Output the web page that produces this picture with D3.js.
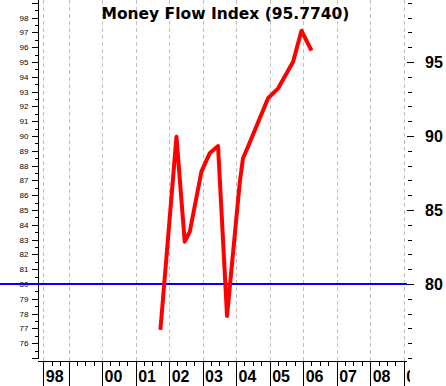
<!DOCTYPE html>
<html>
<head>
<meta charset="utf-8">
<script src="https://cdn.jsdelivr.net/npm/d3@7/dist/d3.min.js"></script>
<style>
  body { margin: 0; background: #fff; }
  svg { display: block; }
</style>
</head>
<body>
<svg id="chart" width="446" height="386"></svg>
<script>
// values
const mfiDates = ["2001-09-28", "2002-03-22", "2002-06-20", "2002-08-14", "2002-12-19", "2003-03-19",
    "2003-06-18", "2003-09-24", "2004-02-09", "2004-03-16", "2004-05-10", "2004-12-14",
    "2005-04-03", "2005-09-13", "2005-12-13", "2006-04-02"]
const mfiValues = [76.9, 89.95, 82.86, 83.53, 87.59, 88.83, 89.32, 77.84, 86.82, 88.5, 89.28, 92.55,
    93.22, 95.02, 97.11, 95.77]
const refLevel = 80
const leftLabels = d3.range(76, 99)          // 76 .. 98
const rightLabels = [80, 85, 90, 95]
const yearTickDates = ["1998-04-01", "1999-01-01", "2000-01-01", "2001-01-01", "2002-01-01", "2003-01-01",
    "2004-01-01", "2005-01-01", "2006-01-01", "2007-01-01", "2008-01-01", "2009-01-01"]
const yearLabels = ["98", "", "00", "01", "02", "03", "04", "05", "06", "07", "08", "09"]
const titleText = "Money Flow Index (95.7740)"

const parse = d3.timeParse("%Y-%m-%d")
const series = mfiDates.map((d, i) => ({ date: parse(d), value: mfiValues[i] }))
const yearTicks = yearTickDates.map(parse)

const cfg = {
    left: 43.3, right: 406, axisX: 38, rightAxisX: 408, bottom: 361,
    red: "#ff0000", blue: "#0000ff", grid: "#c0c0c0"
}

const x = d3.scaleTime()
    .domain([parse("1998-04-01"), parse("2009-01-25")])
    .range([cfg.left, cfg.right])
const y = d3.scaleLinear().domain([75, 99]).range([358, 2.8])

const svg = d3.select("#chart")
svg.append("rect").attr("width", 446).attr("height", 386).attr("fill", "#fff")

const crisp = v => Math.round(v) + 0.5

// dashed vertical grid
svg.append("g").selectAll("line").data(yearTicks).enter().append("line")
    .attr("x1", d => crisp(x(d))).attr("x2", d => crisp(x(d)))
    .attr("y1", 0).attr("y2", cfg.bottom)
    .attr("stroke", cfg.grid).attr("stroke-dasharray", "4,3")

// left axis
const gl = svg.append("g")
gl.append("line").attr("x1", crisp(cfg.axisX)).attr("x2", crisp(cfg.axisX))
    .attr("y1", 0).attr("y2", crisp(y(75)) + 0.5).attr("stroke", "#000")
gl.selectAll(".maj").data(d3.range(75, 100)).enter().append("line")
    .attr("x1", cfg.axisX - 6).attr("x2", cfg.axisX)
    .attr("y1", d => crisp(y(d))).attr("y2", d => crisp(y(d))).attr("stroke", "#000")
gl.selectAll(".min").data(d3.range(75.5, 99.5, 1)).enter().append("line")
    .attr("x1", cfg.axisX - 3).attr("x2", cfg.axisX)
    .attr("y1", d => crisp(y(d))).attr("y2", d => crisp(y(d))).attr("stroke", "#000")
gl.selectAll("text").data(leftLabels).enter().append("text")
    .attr("x", 28.5).attr("y", d => y(d) + 3)
    .attr("text-anchor", "end")
    .style("font", "8px 'Liberation Sans', Arial, sans-serif")
    .text(d => d)

// right axis (ticks only)
const gr = svg.append("g")
gr.selectAll(".min").data(d3.range(75, 100)).enter().append("line")
    .attr("x1", cfg.rightAxisX).attr("x2", cfg.rightAxisX + 4)
    .attr("y1", d => crisp(y(d))).attr("y2", d => crisp(y(d))).attr("stroke", "#000")
gr.selectAll(".maj").data(rightLabels).enter().append("line")
    .attr("x1", cfg.rightAxisX - 1).attr("x2", cfg.rightAxisX + 6)
    .attr("y1", d => crisp(y(d))).attr("y2", d => crisp(y(d))).attr("stroke", "#000")
gr.selectAll("text").data(rightLabels).enter().append("text")
    .attr("x", 425).attr("y", d => y(d) + 6)
    .style("font", "bold 16px 'Liberation Sans', Arial, sans-serif")
    .text(d => d)

// bottom axis
svg.append("clipPath").attr("id", "xclip").append("rect")
    .attr("x", 0).attr("y", 0).attr("width", 410).attr("height", 386)
const gx = svg.append("g").attr("clip-path", "url(#xclip)")
gx.append("line").attr("x1", cfg.axisX).attr("x2", cfg.right + 1)
    .attr("y1", crisp(cfg.bottom)).attr("y2", crisp(cfg.bottom)).attr("stroke", "#000")
const quarters = d3.timeMonth.every(3).range(x.domain()[0], x.domain()[1])
    .filter(d => d.getMonth() !== 0 && +d !== +x.domain()[0])
gx.selectAll(".min").data(quarters).enter().append("line")
    .attr("x1", d => crisp(x(d))).attr("x2", d => crisp(x(d)))
    .attr("y1", cfg.bottom).attr("y2", cfg.bottom + 5).attr("stroke", "#000")
gx.selectAll(".maj").data(yearTicks).enter().append("line")
    .attr("x1", d => crisp(x(d))).attr("x2", d => crisp(x(d)))
    .attr("y1", cfg.bottom).attr("y2", 386).attr("stroke", "#000")
gx.selectAll("text").data(yearTicks).enter().append("text")
    .attr("x", d => x(d) + 2.5).attr("y", 382)
    .style("font", "bold 16px 'Liberation Sans', Arial, sans-serif")
    .text((d, i) => yearLabels[i])

// reference line at 80
svg.append("line")
    .attr("x1", 0).attr("x2", 407)
    .attr("y1", y(refLevel)).attr("y2", y(refLevel))
    .attr("stroke", cfg.blue).attr("stroke-width", 2)

// money flow line
const line = d3.line().x(d => x(d.date)).y(d => y(d.value))
svg.append("path").datum(series)
    .attr("d", line)
    .attr("fill", "none").attr("stroke", cfg.red).attr("stroke-width", 4)
    .attr("stroke-linejoin", "round")

// title
svg.append("text")
    .attr("x", 101.5).attr("y", 18.5)
    .style("font", "bold 15.5px 'DejaVu Sans', sans-serif")
    .text(titleText)
</script>
</body>
</html>
